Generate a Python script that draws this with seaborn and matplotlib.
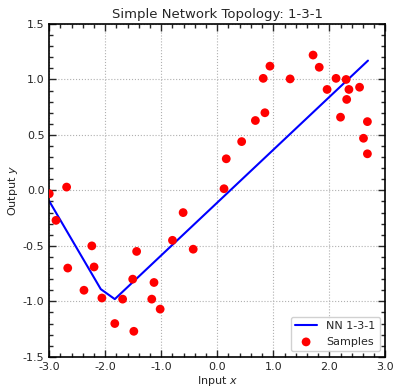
import numpy as np
import pandas as pd
import matplotlib
matplotlib.use("Agg")
import matplotlib.pyplot as plt
from matplotlib.ticker import MultipleLocator
import seaborn as sns

# Noisy training samples
sample_x = [-3.00, -2.88, -2.69, -2.67, -2.38, -2.24, -2.20, -2.06, -1.83, -1.69,
            -1.51, -1.49, -1.44, -1.17, -1.13, -1.02, -0.80, -0.61, -0.43,
            0.12, 0.16, 0.435, 0.68, 0.82, 0.85, 0.94, 1.30, 1.71, 1.82, 1.96,
            2.12, 2.20, 2.30, 2.31, 2.35, 2.54, 2.61, 2.68, 2.68]
sample_y = [-0.03, -0.27, 0.03, -0.70, -0.90, -0.50, -0.69, -0.97, -1.20, -0.98,
            -0.80, -1.27, -0.55, -0.98, -0.83, -1.07, -0.45, -0.20, -0.53,
            0.015, 0.285, 0.44, 0.63, 1.01, 0.70, 1.12, 1.005, 1.22, 1.11, 0.91,
            1.01, 0.66, 1.00, 0.82, 0.91, 0.93, 0.47, 0.62, 0.33]

# Piecewise-linear output of the 1-3-1 network
nn_x = [-3.00, -2.08, -1.83, 2.69]
nn_y = [-0.097, -0.89, -0.98, 1.17]

sns.set_style("ticks")
plt.rcParams["axes.unicode_minus"] = False
plt.rcParams["font.family"] = ["DejaVu Sans"]

fig, ax = plt.subplots(figsize=(3.94, 3.87), dpi=100)

nn_df = pd.DataFrame({"x": nn_x, "y": nn_y})
sp_df = pd.DataFrame({"x": sample_x, "y": sample_y})

sns.lineplot(data=nn_df, x="x", y="y", ax=ax, color="blue", linewidth=1.5,
             label="NN 1-3-1", sort=False, zorder=2)
sns.scatterplot(data=sp_df, x="x", y="y", ax=ax, color="red", s=40,
                edgecolor="none", label="Samples", zorder=3, clip_on=True)

ax.set_xlim(-3, 3)
ax.set_ylim(-1.5, 1.5)
ax.xaxis.set_major_locator(MultipleLocator(1.0))
ax.xaxis.set_minor_locator(MultipleLocator(0.2))
ax.yaxis.set_major_locator(MultipleLocator(0.5))
ax.yaxis.set_minor_locator(MultipleLocator(0.1))
ax.xaxis.set_major_formatter(plt.FormatStrFormatter("%.1f"))
ax.yaxis.set_major_formatter(plt.FormatStrFormatter("%.1f"))

ax.tick_params(which="both", direction="in", top=True, right=True, labelsize=8)
ax.tick_params(which="major", length=5, width=1)
ax.tick_params(which="minor", length=3, width=1)
for sp in ax.spines.values():
    sp.set_linewidth(1.2)
    sp.set_color("black")

ax.grid(True, which="major", linestyle=":", color="#b0b0b0", linewidth=0.8)
ax.set_axisbelow(True)

ax.set_title("Simple Network Topology: 1-3-1", fontsize=9.5, pad=4)
ax.set_xlabel("Input $x$", fontsize=8, labelpad=2)
ax.set_ylabel("Output $y$", fontsize=8, labelpad=2)

leg = ax.legend(loc="lower right", fontsize=8, frameon=True, fancybox=True,
                edgecolor="#cccccc", framealpha=0.9, borderpad=0.4,
                handlelength=2.0)

fig.subplots_adjust(left=0.125, right=0.978, top=0.938, bottom=0.078)
fig.savefig("out.png", dpi=100)
